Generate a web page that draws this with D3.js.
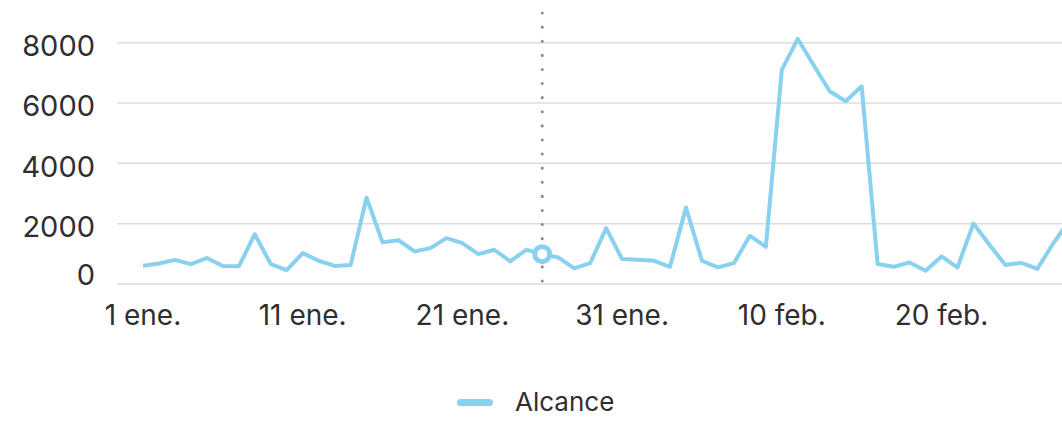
<!DOCTYPE html>
<html>
<head>
<meta charset="utf-8">
<script src="https://cdn.jsdelivr.net/npm/d3@7"></script>
<style>
  body { margin: 0; background: #fff; }
  svg { display: block; font-family: Inter, Roboto, sans-serif; }
</style>
</head>
<body>
<svg id="chart" width="1062" height="423"></svg>
<script>
// Alcance per day, 1 ene. -> 28 feb.
var startDate = new Date(2024, 0, 1);
var reach = [605, 680, 800, 660, 860, 595, 585, 1650, 660, 460,
             1025, 770, 600, 630, 2865, 1380, 1450, 1080, 1190, 1520,
             1355, 990, 1135, 750, 1135, 990, 880, 520, 690, 1850,
             825, 800, 770, 570, 2535, 770, 550, 690, 1600, 1235,
             7100, 8125, 7250, 6390, 6060, 6555, 660, 570, 715, 440,
             915, 550, 2005, 1300, 630, 700, 500, 1350, 2100];
var yTicks = [0, 2000, 4000, 6000, 8000];
var tickDays = [0, 10, 20, 30, 40, 50];
var tickLabels = ["1 ene.", "11 ene.", "21 ene.", "31 ene.", "10 feb.", "20 feb."];
var markerDay = 25;
var seriesName = "Alcance";

var lineColor = "#8ad0ef";
var svg = d3.select("#chart");

var data = reach.map(function(v, i) {
	return {"date": d3.timeDay.offset(startDate, i), "value": v};
});

var x = d3.scaleTime()
	.domain([startDate, d3.timeDay.offset(startDate, reach.length - 1)])
	.range([143, 143 + (reach.length - 1) * 15.97]);
var y = d3.scaleLinear()
	.domain([0, 8000])
	.range([284, 42.7]);

// grid lines
svg.append("g")
	.selectAll("line")
	.data(yTicks)
	.enter().append("line")
		.attr("x1", 117).attr("x2", 1062)
		.attr("y1", function(d) { return y(d); })
		.attr("y2", function(d) { return y(d); })
		.attr("stroke", "#dcdcdc")
		.attr("stroke-width", 1.5);

// y labels
svg.append("g")
	.selectAll("text")
	.data(yTicks)
	.enter().append("text")
		.attr("x", 95)
		.attr("y", function(d) { return y(d) + (d == 0 ? -9 : 3); })
		.attr("dy", "0.36em")
		.attr("text-anchor", "end")
		.attr("fill", "#2f2f2f")
		.attr("font-size", 29)
		.text(function(d) { return d; });

// x labels
svg.append("g")
	.selectAll("text")
	.data(tickDays)
	.enter().append("text")
		.attr("x", function(d) { return x(d3.timeDay.offset(startDate, d)); })
		.attr("y", 325)
		.attr("text-anchor", "middle")
		.attr("fill", "#2f2f2f")
		.attr("font-size", 28)
		.text(function(d, i) { return tickLabels[i]; });

// hover rule
var mx = x(data[markerDay].date);
svg.append("line")
	.attr("x1", mx).attr("x2", mx)
	.attr("y1", 13).attr("y2", 292)
	.attr("stroke", "#8a8a8a")
	.attr("stroke-width", 3)
	.attr("stroke-linecap", "round")
	.attr("stroke-dasharray", "0.1,14");

var line = d3.line()
	.x(function(d) { return x(d.date); })
	.y(function(d) { return y(d.value); });

svg.append("path")
	.datum(data)
	.attr("d", line)
	.attr("fill", "none")
	.attr("stroke", lineColor)
	.attr("stroke-width", 4)
	.attr("stroke-linejoin", "round");

svg.append("circle")
	.attr("cx", mx)
	.attr("cy", y(data[markerDay].value))
	.attr("r", 7.5)
	.attr("fill", "#fff")
	.attr("stroke", lineColor)
	.attr("stroke-width", 5);

// legend
svg.append("rect")
	.attr("x", 457).attr("y", 399)
	.attr("width", 36).attr("height", 7)
	.attr("rx", 3.5)
	.attr("fill", lineColor);
svg.append("text")
	.attr("x", 515).attr("y", 411)
	.attr("fill", "#2f2f2f")
	.attr("font-size", 26)
	.text(seriesName);
</script>
</body>
</html>
